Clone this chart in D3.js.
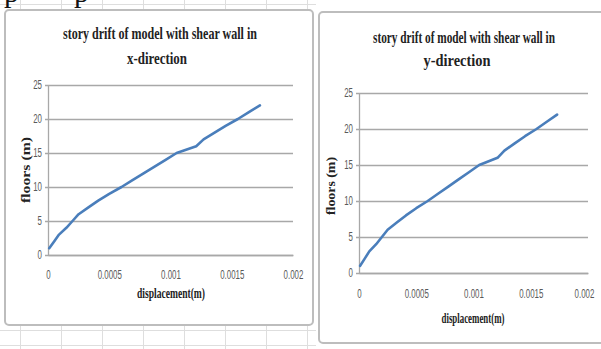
<!DOCTYPE html>
<html>
<head>
<meta charset="utf-8">
<script src="https://cdn.jsdelivr.net/npm/d3@7"></script>
<style>
  html, body { margin: 0; padding: 0; background: #ffffff; }
  svg { display: block; }
</style>
</head>
<body>
<svg id="sheet" width="601" height="349"></svg>
<script>
// Storey number and lateral displacement (m) from the analysis
const floors = [1, 2, 3, 4, 5, 6, 7, 8, 9, 10, 11, 12, 13, 14, 15, 16, 17, 18, 19, 20, 21, 22];
const dispX = [0.00001, 0.00005, 0.00009, 0.00015, 0.0002, 0.00025, 0.00033, 0.00041, 0.0005, 0.0006,
               0.00069, 0.00078, 0.00087, 0.00096, 0.00105, 0.00121, 0.00127, 0.00136, 0.00145, 0.00155,
               0.00164, 0.00173];
const dispY = [0.00001, 0.00005, 0.00009, 0.00015, 0.0002, 0.00025, 0.00033, 0.00041, 0.0005, 0.0006,
               0.00069, 0.00078, 0.00087, 0.00096, 0.00105, 0.00121, 0.00127, 0.00136, 0.00145, 0.00155,
               0.00164, 0.00173];

// Axis ticks
const xTicks = [0, 0.0005, 0.001, 0.0015, 0.002];
const xTickLabels = ["0", "0.0005", "0.001", "0.0015", "0.002"];
const yTicks = [0, 5, 10, 15, 20, 25];
const yTickLabels = ["0", "5", "10", "15", "20", "25"];

// Titles
const titleX = ["story drift of model with shear wall in", "x-direction"];
const titleY = ["story drift of model with shear wall in", "y-direction"];
const xAxisTitle = "displacement(m)";
const yAxisTitle = "floors (m)";

const svg = d3.select("#sheet");
svg.append("rect").attr("width", 601).attr("height", 349).attr("fill", "#ffffff");

// Worksheet cell grid behind the charts
const sheet = svg.append("g").attr("stroke", "#dedede").attr("stroke-width", 1);
d3.range(8).forEach(i => {
  const x = 20.5 + 41 * i;
  sheet.append("line").attr("x1", x).attr("x2", x).attr("y1", 0).attr("y2", 349);
});
[4.5, 330.5, 345.5].forEach(y => {
  sheet.append("line").attr("x1", 0).attr("x2", 316).attr("y1", y).attr("y2", y);
});

// Text running above the charts, mostly cut off by the top edge
const docText = svg.append("g").attr("font-family", "'Liberation Serif', serif")
  .attr("font-size", 30).attr("fill", "#111");
docText.append("text").attr("x", 4).attr("y", 1.5).text("p");
docText.append("text").attr("x", 74).attr("y", 1.5).text("p");

const serif = "'Liberation Serif', 'Times New Roman', serif";
const sans = "'Liberation Sans Narrow', 'Liberation Sans', Arial, sans-serif";

function labelWidth(s) {
  let w = 0;
  for (const ch of s) w += (ch === ".") ? 2.2 : 4.4;
  return w;
}

function drawChart(cfg) {
  const g = svg.append("g");

  // chart frame
  g.append("rect")
    .attr("x", cfg.box[0]).attr("y", cfg.box[1])
    .attr("width", cfg.box[2]).attr("height", cfg.box[3])
    .attr("rx", 4)
    .attr("fill", "#ffffff")
    .attr("stroke", "#bdbdbd").attr("stroke-width", 2);

  const x = d3.scaleLinear().domain([0, 0.002]).range([cfg.plot.left, cfg.plot.right]);
  const y = d3.scaleLinear().domain([0, 25]).range([cfg.plot.bottom, cfg.plot.top]);

  // horizontal gridlines and value labels
  const yAxis = g.append("g")
    .attr("transform", `translate(${cfg.plot.left},0)`)
    .call(d3.axisLeft(y).tickValues(yTicks)
      .tickSize(-(cfg.plot.right - cfg.plot.left))
      .tickSizeOuter(0)
      .tickPadding(6)
      .tickFormat((d, i) => yTickLabels[i]));
  yAxis.select(".domain").attr("stroke", "#a8a8a8").attr("stroke-width", 1.3);
  yAxis.selectAll(".tick line").attr("stroke", "#a8a8a8").attr("stroke-width", 1.3)
    .attr("x1", -3);
  yAxis.selectAll(".tick text")
    .attr("font-family", sans).attr("font-size", 12).attr("fill", "#595959")
    .attr("textLength", d => labelWidth(yTickLabels[yTicks.indexOf(d)]))
    .attr("lengthAdjust", "spacingAndGlyphs");

  // category axis labels
  const xAxis = g.append("g")
    .attr("transform", `translate(0,${cfg.plot.bottom})`)
    .call(d3.axisBottom(x).tickValues(xTicks).tickSize(0).tickPadding(cfg.xLabelPad)
      .tickFormat((d, i) => xTickLabels[i]));
  xAxis.select(".domain").attr("stroke", "#a8a8a8").attr("stroke-width", 1.3);
  xAxis.selectAll(".tick text")
    .attr("font-family", sans).attr("font-size", 12).attr("fill", "#595959")
    .attr("textLength", d => labelWidth(xTickLabels[xTicks.indexOf(d)]))
    .attr("lengthAdjust", "spacingAndGlyphs")
    .attr("dx", d => d === 0.002 ? cfg.lastLabelShift : 0);

  // displacement profile
  const line = d3.line().x(d => x(d[0])).y(d => y(d[1]));
  g.append("path")
    .datum(cfg.values.map((v, i) => [v, floors[i]]))
    .attr("d", line)
    .attr("fill", "none")
    .attr("stroke", "#4a7ebb")
    .attr("stroke-width", 2.6)
    .attr("stroke-linejoin", "round")
    .attr("stroke-linecap", "round");

  // title
  cfg.title.forEach((t, i) => {
    g.append("text")
      .attr("x", cfg.titlePos[i][0]).attr("y", cfg.titlePos[i][1])
      .attr("text-anchor", "middle")
      .attr("font-family", serif).attr("font-weight", "bold").attr("font-size", 17)
      .attr("fill", "#222222")
      .attr("textLength", cfg.titleLen[i]).attr("lengthAdjust", "spacingAndGlyphs")
      .text(t);
  });

  // axis titles
  g.append("text")
    .attr("x", cfg.xTitle[0]).attr("y", cfg.xTitle[1])
    .attr("text-anchor", "middle")
    .attr("font-family", serif).attr("font-weight", "bold").attr("font-size", 14.5)
    .attr("fill", "#222222")
    .attr("textLength", cfg.xTitle[2]).attr("lengthAdjust", "spacingAndGlyphs")
    .text(xAxisTitle);

  g.append("text")
    .attr("transform", `translate(${cfg.yTitle[0]},${cfg.yTitle[1]}) rotate(-90)`)
    .attr("text-anchor", "middle")
    .attr("font-family", serif).attr("font-weight", "bold").attr("font-size", 12.5)
    .attr("fill", "#222222")
    .attr("textLength", cfg.yTitle[2]).attr("lengthAdjust", "spacingAndGlyphs")
    .text(yAxisTitle);
}

drawChart({
  box: [5, 10, 308, 315],
  plot: { left: 48, right: 293, top: 85, bottom: 255 },
  values: dispX,
  title: titleX,
  titlePos: [[160, 39], [157, 63.5]],
  titleLen: [194, 60],
  xLabelPad: 15,
  lastLabelShift: 0,
  xTitle: [171, 298, 68],
  yTitle: [30, 170, 66]
});

drawChart({
  box: [319, 12, 290, 331],
  plot: { left: 359, right: 588, top: 93, bottom: 273 },
  values: dispY,
  title: titleY,
  titlePos: [[464, 43], [457, 65.5]],
  titleLen: [182, 67],
  xLabelPad: 16,
  lastLabelShift: -4,
  xTitle: [473, 323, 63],
  yTitle: [335, 186, 58]
});
</script>
</body>
</html>
